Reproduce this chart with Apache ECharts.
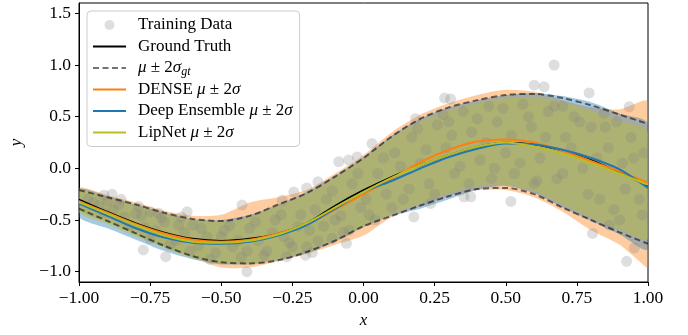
<!DOCTYPE html>
<html>
<head>
<meta charset="utf-8">
<script src="https://cdn.jsdelivr.net/npm/echarts@6/dist/echarts.min.js"></script>
<style>
  html, body { margin: 0; padding: 0; background: #fff; }
  #main { width: 688px; height: 335px; }
</style>
</head>
<body>
<div id="main"></div>
<script>
// x grid shared by all curves
const xVals = [-1.0, -0.9, -0.8, -0.7, -0.6, -0.5, -0.4, -0.3, -0.2, -0.1, 0.0, 0.1, 0.2, 0.3, 0.4, 0.5, 0.6, 0.7, 0.8, 0.9, 1.0]

// ground truth and its +-2 sigma
const groundTruth = [-0.30, -0.42, -0.53, -0.62, -0.68, -0.70, -0.68, -0.63, -0.53, -0.36, -0.21, -0.08, 0.03, 0.13, 0.21, 0.25, 0.23, 0.17, 0.08, -0.04, -0.17]
const gtUpper = [-0.21, -0.28, -0.35, -0.43, -0.49, -0.51, -0.46, -0.35, -0.24, -0.08, 0.10, 0.31, 0.48, 0.59, 0.66, 0.71, 0.72, 0.68, 0.61, 0.52, 0.43]
const gtLower = [-0.39, -0.51, -0.63, -0.75, -0.85, -0.91, -0.92, -0.89, -0.81, -0.70, -0.56, -0.46, -0.36, -0.27, -0.20, -0.19, -0.25, -0.38, -0.50, -0.62, -0.73]

// DENSE
const denseMean = [-0.32, -0.43, -0.54, -0.63, -0.69, -0.71, -0.69, -0.63, -0.54, -0.40, -0.25, -0.10, 0.06, 0.18, 0.26, 0.28, 0.25, 0.17, 0.07, -0.03, -0.14]
const denseUpper = [-0.19, -0.26, -0.33, -0.41, -0.46, -0.45, -0.33, -0.28, -0.21, -0.05, 0.13, 0.35, 0.52, 0.63, 0.71, 0.76, 0.74, 0.66, 0.59, 0.57, 0.64]
const denseLower = [-0.40, -0.52, -0.64, -0.76, -0.86, -0.96, -0.96, -0.90, -0.83, -0.74, -0.65, -0.47, -0.37, -0.27, -0.21, -0.21, -0.28, -0.42, -0.60, -0.74, -0.97]

// Deep Ensemble
const ensMean = [-0.34, -0.46, -0.58, -0.67, -0.72, -0.73, -0.71, -0.65, -0.55, -0.39, -0.23, -0.12, 0.00, 0.11, 0.19, 0.24, 0.23, 0.18, 0.10, -0.01, -0.19]
const ensUpper = [-0.20, -0.27, -0.35, -0.43, -0.49, -0.50, -0.45, -0.35, -0.23, -0.07, 0.11, 0.32, 0.48, 0.59, 0.66, 0.71, 0.73, 0.70, 0.64, 0.53, 0.43]
const ensLower = [-0.47, -0.58, -0.69, -0.80, -0.88, -0.93, -0.93, -0.89, -0.82, -0.71, -0.57, -0.46, -0.39, -0.30, -0.21, -0.17, -0.24, -0.38, -0.51, -0.64, -0.78]

// LipNet
const lipMean = [-0.33, -0.44, -0.55, -0.65, -0.71, -0.72, -0.70, -0.64, -0.53, -0.38, -0.23, -0.09, 0.03, 0.13, 0.21, 0.25, 0.21, 0.14, 0.05, -0.05, -0.16]
const lipUpper = [-0.21, -0.28, -0.36, -0.44, -0.50, -0.52, -0.47, -0.36, -0.25, -0.09, 0.09, 0.30, 0.45, 0.56, 0.63, 0.68, 0.69, 0.64, 0.56, 0.46, 0.35]
const lipLower = [-0.43, -0.54, -0.66, -0.77, -0.87, -0.92, -0.92, -0.88, -0.80, -0.69, -0.56, -0.44, -0.34, -0.24, -0.17, -0.16, -0.22, -0.35, -0.48, -0.59, -0.68]

// training points (outliers first, then the ones hidden in the band)
const trainX = [-0.912, -0.884, -0.852, -0.79, -0.75, -0.72, -0.62, -0.64, -0.774, -0.695, -0.427, -0.41, -0.245, -0.27, -0.286, -0.20, -0.16, -0.087, -0.052, -0.022, 0.03, -0.204, -0.18, -0.11, -0.06, 0.183, 0.285, 0.306, 0.177, 0.236, 0.353, 0.377, 0.518, 0.67, 0.60, 0.635, 0.793, 0.934, 0.805, 0.952, 0.925, 0.864, 0.845,
  -0.97, -0.93, -0.88, -0.84, -0.80, -0.77, -0.73, -0.70, -0.66, -0.63, -0.58, -0.55, -0.52, -0.49, -0.46, -0.43, -0.40, -0.37, -0.34, -0.31, -0.28, -0.25, -0.22, -0.19, -0.16, -0.13, -0.10, -0.07, -0.04, -0.01, 0.02, 0.05, 0.08, 0.11, 0.14, 0.17, 0.20, 0.23, 0.26, 0.29, 0.32, 0.35, 0.38, 0.41, 0.44, 0.47, 0.50, 0.53, 0.56, 0.59, 0.62, 0.65, 0.68, 0.71, 0.74, 0.77, 0.80, 0.83, 0.86, 0.89, 0.92, 0.95, 0.98, 0.60, 0.45, 0.30, 0.70, 0.90, -0.60, -0.90,
  -0.95, -0.91, -0.86, -0.82, -0.78, -0.75, -0.71, -0.68, -0.65, -0.61, -0.57, -0.54, -0.50, -0.47, -0.44, -0.41, -0.38, -0.35, -0.32, -0.29, -0.26, -0.23, -0.20, -0.17, -0.14, -0.11, -0.08, -0.05, -0.02, 0.01, 0.04, 0.07, 0.10, 0.13, 0.16, 0.19, 0.22, 0.25, 0.28, 0.31, 0.34, 0.37, 0.40, 0.43, 0.46, 0.49, 0.52, 0.55, 0.58, 0.61, 0.64, 0.67, 0.70, 0.73, 0.76, 0.79, 0.82, 0.85, 0.88, 0.91, 0.94, 0.97, 0.985]
const trainY = [-0.26, -0.25, -0.30, -0.37, -0.42, -0.435, -0.42, -0.47, -0.79, -0.855, -0.355, -1.0, -0.23, -0.855, -0.31, -0.19, -0.13, 0.064, 0.08, 0.11, 0.24, -0.84, -0.815, -0.68, -0.725, 0.48, 0.68, 0.67, -0.47, -0.34, -0.275, -0.275, -0.32, 1.0, 0.805, 0.79, 0.73, 0.596, -0.63, -0.77, -0.90, -0.55, 0.535,
  -0.30, -0.36, -0.40, -0.47, -0.44, -0.57, -0.60, -0.52, -0.70, -0.62, -0.75, -0.66, -0.82, -0.60, -0.76, -0.86, -0.58, -0.70, -0.80, -0.50, -0.66, -0.76, -0.45, -0.60, -0.70, -0.30, -0.50, -0.62, -0.15, -0.38, -0.45, -0.05, -0.25, 0.15, -0.30, 0.30, 0.05, -0.15, 0.42, 0.20, -0.05, 0.55, 0.35, 0.08, 0.60, 0.45, 0.15, -0.05, 0.62, 0.40, 0.10, 0.55, -0.10, 0.30, 0.50, 0.00, 0.40, -0.30, 0.20, 0.45, -0.20, 0.10, -0.45, -0.15, -0.10, 0.45, 0.60, -0.50, -0.55, -0.32,
  -0.33, -0.43, -0.35, -0.55, -0.46, -0.68, -0.48, -0.74, -0.55, -0.80, -0.58, -0.88, -0.66, -0.55, -0.70, -0.80, -0.52, -0.84, -0.62, -0.45, -0.72, -0.56, -0.76, -0.40, -0.56, -0.22, -0.46, -0.60, -0.05, -0.30, -0.50, 0.10, -0.38, 0.02, -0.20, 0.38, 0.18, -0.25, 0.52, 0.32, 0.02, -0.15, 0.48, 0.25, 0.00, 0.58, 0.32, 0.05, 0.50, -0.12, 0.30, 0.60, -0.05, 0.20, 0.45, -0.25, 0.10, 0.40, -0.40, 0.05, 0.30, -0.30, 0.15]

const yTicks = [-1.0, -0.5, 0.0, 0.5, 1.0, 1.5]

const FONT = 'Liberation Serif'
const ORANGE = '#ff7f0e'
const BLUE = '#1f77b4'
const OLIVE = '#bcbd22'

function pairs (ys) {
  return xVals.map((x, i) => [x, ys[i]])
}

function tickFmt (v, d) {
  return v.toFixed(d).replace('-', '\u2212')
}

// filled band between low and up, one polygon through the axis scales
function band (key, up, low, fill) {
  return {
    name: key + '_band',
    type: 'custom',
    silent: true,
    clip: true,
    data: xVals.map((x, i) => [x, low[i], up[i]]),
    encode: { x: 0, y: [1, 2] },
    renderItem: function (params, api) {
      if (params.dataIndex !== 0) return
      let pts = []
      for (let i = 0; i < xVals.length; i++) pts.push(api.coord([xVals[i], up[i]]))
      for (let i = xVals.length - 1; i >= 0; i--) pts.push(api.coord([xVals[i], low[i]]))
      let xs = pts.map(p => p[0])
      let ys = pts.map(p => p[1])
      let box = [[Math.min(...xs), Math.min(...ys)], [Math.max(...xs), Math.max(...ys)]]
      return {
        type: 'polygon',
        shape: { points: pts, smooth: 0.25, smoothConstraint: box },
        style: { fill: fill }
      }
    }
  }
}

function line (name, ys, color, width, dashed) {
  return {
    name: name,
    type: 'line',
    data: pairs(ys),
    symbol: 'none',
    smooth: 0.3,
    silent: true,
    lineStyle: { color: color, width: width, type: dashed ? [6, 3.5] : 'solid' },
    itemStyle: { color: color }
  }
}

function legendLine (name) {
  return { name: name, itemStyle: { opacity: 0 } }
}

let myChart = echarts.init(document.getElementById('main'))
let options = {
  animation: false,
  grid: { left: 79, right: 40, top: 3, bottom: 53, show: true, borderColor: '#000', borderWidth: 1 },
  legend: {
    orient: 'vertical',
    left: 87,
    top: 11,
    padding: [4, 7, 4, 5],
    itemWidth: 33,
    itemHeight: 10,
    itemGap: 1.5,
    selectedMode: false,
    backgroundColor: 'rgba(255,255,255,0.8)',
    borderColor: '#cccccc',
    borderWidth: 1,
    borderRadius: 4,
    textStyle: {
      fontFamily: FONT,
      fontSize: 17,
      color: '#000',
      lineHeight: 20,
      padding: [0, 0, 0, 7],
      rich: {
        i: { fontFamily: FONT, fontSize: 17, fontStyle: 'italic', lineHeight: 20 },
        sub: { fontFamily: FONT, fontSize: 12, fontStyle: 'italic', lineHeight: 20, padding: [7, 0, 0, 0] }
      }
    },
    formatter: function (name) {
      if (name === 'μ ± 2σ_gt') return '{i|μ} ± 2{i|σ}{sub|gt}'
      if (name.indexOf(' μ ± 2σ') > 0) return name.replace(' μ ± 2σ', '') + ' {i|μ} ± 2{i|σ}'
      return name
    },
    data: [
      'Training Data',
      legendLine('Ground Truth'),
      legendLine('μ ± 2σ_gt'),
      legendLine('DENSE μ ± 2σ'),
      legendLine('Deep Ensemble μ ± 2σ'),
      legendLine('LipNet μ ± 2σ')
    ]
  },
  xAxis: {
    type: 'value',
    min: -1,
    max: 1,
    interval: 0.25,
    name: 'x',
    nameLocation: 'middle',
    nameGap: 30,
    nameTextStyle: { fontFamily: FONT, fontStyle: 'italic', fontSize: 17, color: '#000' },
    axisLine: { show: true, onZero: false, lineStyle: { color: '#000', width: 1 } },
    axisTick: { show: true, inside: false, length: 4, lineStyle: { color: '#000' } },
    axisLabel: { fontFamily: FONT, fontSize: 17.5, color: '#000', margin: 7, formatter: v => tickFmt(v, 2) },
    splitLine: { show: false }
  },
  yAxis: {
    type: 'value',
    min: -1.1,
    max: 1.6,
    name: 'y',
    nameLocation: 'middle',
    nameGap: 54,
    nameRotate: 90,
    nameTextStyle: { fontFamily: FONT, fontStyle: 'italic', fontSize: 17, color: '#000' },
    axisLine: { show: true, onZero: false, lineStyle: { color: '#000', width: 1 } },
    axisTick: { show: true, inside: false, length: 4, lineStyle: { color: '#000' }, customValues: yTicks },
    axisLabel: { fontFamily: FONT, fontSize: 17.5, color: '#000', margin: 8, customValues: yTicks, formatter: v => tickFmt(v, 1) },
    splitLine: { show: false }
  },
  series: [
    {
      name: 'Training Data',
      type: 'scatter',
      data: trainX.map((x, i) => [x, trainY[i]]),
      symbolSize: 11,
      silent: true,
      itemStyle: { color: 'rgba(128,128,128,0.33)' }
    },
    band('dense', denseUpper, denseLower, 'rgba(255,127,14,0.4)'),
    band('ens', ensUpper, ensLower, 'rgba(31,119,180,0.4)'),
    band('lip', lipUpper, lipLower, 'rgba(188,189,34,0.4)'),
    line('μ ± 2σ_gt', gtUpper, 'rgba(0,0,0,0.55)', 2, true),
    line('μ ± 2σ_gt', gtLower, 'rgba(0,0,0,0.55)', 2, true),
    line('Ground Truth', groundTruth, '#000', 1.5, false),
    line('DENSE μ ± 2σ', denseMean, ORANGE, 2, false),
    line('Deep Ensemble μ ± 2σ', ensMean, BLUE, 2, false),
    line('LipNet μ ± 2σ', lipMean, OLIVE, 2, false)
  ]
}
myChart.setOption(options)
</script>
</body>
</html>
